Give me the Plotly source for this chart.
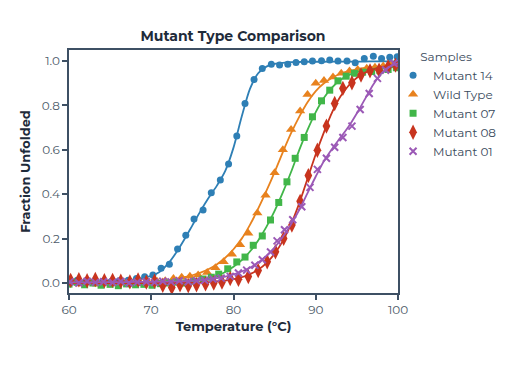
import plotly.graph_objects as go

# ---------------- data ----------------
series_names = ["Mutant 14", "Wild Type", "Mutant 07", "Mutant 08", "Mutant 01"]

m14_t = [60.0, 61.0, 62.0, 63.1, 64.1, 65.1, 66.1, 67.2, 68.2, 69.2, 70.2, 71.2, 72.2, 73.2,
         74.2, 75.2, 76.3, 77.3, 78.4, 79.4, 80.4, 81.4, 82.5, 83.5, 84.6, 85.6, 86.6, 87.6,
         88.6, 89.6, 90.7, 91.7, 92.7, 93.8, 94.8, 95.9, 97.0, 98.0, 99.0, 99.9]
m14_v = [0.008, 0.012, 0.005, 0.010, 0.008, 0.006, 0.010, 0.012, 0.020, 0.028, 0.036, 0.066,
         0.084, 0.153, 0.215, 0.288, 0.329, 0.407, 0.464, 0.536, 0.662, 0.809, 0.917, 0.967,
         0.986, 0.982, 0.986, 0.994, 0.997, 1.000, 1.002, 1.005, 1.000, 1.000, 0.992, 1.012,
         1.022, 1.012, 1.017, 1.020]

wt_t = [60.4, 61.4, 62.5, 63.5, 64.5, 65.5, 66.6, 67.6, 68.6, 69.6, 70.7, 71.7, 72.7, 73.7,
        74.7, 75.7, 76.8, 77.8, 78.8, 79.8, 80.8, 81.8, 82.9, 83.9, 85.0, 86.0, 87.0, 88.1,
        89.0, 90.0, 91.0, 92.1, 93.1, 94.1, 95.1, 96.2, 97.2, 98.2, 99.2]
wt_v = [0.002, -0.004, 0.003, -0.006, 0.000, -0.005, 0.004, 0.002, -0.003, 0.006, 0.008,
        0.010, 0.020, 0.026, 0.030, 0.036, 0.047, 0.069, 0.096, 0.130, 0.172, 0.224, 0.316,
        0.396, 0.497, 0.600, 0.692, 0.775, 0.850, 0.900, 0.912, 0.928, 0.945, 0.955, 0.962,
        0.968, 0.972, 0.978, 0.985]

m07_t = [60.0, 61.0, 61.9, 62.9, 63.9, 65.0, 66.0, 67.0, 68.1, 69.1, 70.1, 71.1, 72.2, 73.2,
         74.2, 75.2, 76.3, 77.3, 78.2, 79.3, 80.4, 81.4, 82.4, 83.5, 84.5, 85.5, 86.5, 87.5,
         88.6, 89.6, 90.7, 91.7, 92.7, 93.7, 94.7, 95.7, 96.8, 97.8, 98.8, 99.8]
m07_v = [-0.005, 0.003, -0.008, 0.000, -0.010, -0.006, -0.012, -0.004, -0.008, -0.006, -0.010,
         -0.003, 0.000, 0.004, 0.000, 0.008, 0.018, 0.026, 0.040, 0.064, 0.095, 0.117, 0.170,
         0.212, 0.284, 0.363, 0.456, 0.562, 0.656, 0.749, 0.821, 0.869, 0.911, 0.932, 0.945,
         0.950, 0.953, 0.957, 0.962, 0.970]

m08_t = [60.2, 61.2, 62.2, 63.2, 64.3, 65.3, 66.3, 67.4, 68.4, 69.4, 70.4, 71.4, 72.5, 73.5,
         74.5, 75.5, 76.6, 77.6, 78.6, 79.6, 80.6, 81.8, 83.0, 84.1, 85.1, 86.1, 87.1, 88.1,
         89.1, 90.2, 91.3, 92.3, 93.3, 94.4, 95.5, 96.6, 97.7, 98.8, 99.7]
m08_v = [0.012, 0.015, 0.010, 0.016, 0.010, 0.012, 0.008, 0.005, 0.014, 0.004, 0.008, -0.010,
         -0.020, -0.008, -0.012, -0.008, -0.004, 0.000, 0.004, 0.020, 0.017, 0.029, 0.056,
         0.096, 0.141, 0.201, 0.261, 0.368, 0.484, 0.598, 0.707, 0.809, 0.877, 0.902, 0.937,
         0.956, 0.959, 0.974, 0.982]

m01_t = [60.1, 61.2, 62.2, 63.2, 64.2, 65.3, 66.3, 67.3, 68.3, 69.4, 70.4, 71.4, 72.4, 73.4,
         74.5, 75.5, 76.5, 77.5, 78.5, 79.6, 80.6, 81.6, 82.6, 83.5, 84.5, 85.3, 86.2, 87.2,
         88.3, 89.3, 90.2, 91.3, 92.3, 93.3, 94.4, 95.4, 96.5, 97.5, 98.5, 99.5]
m01_v = [0.005, 0.000, 0.008, 0.003, 0.006, 0.002, 0.007, 0.000, 0.004, 0.006, 0.003, 0.008,
         0.005, 0.010, 0.006, 0.010, 0.012, 0.018, 0.022, 0.030, 0.045, 0.058, 0.080, 0.105,
         0.140, 0.190, 0.240, 0.285, 0.344, 0.431, 0.512, 0.562, 0.612, 0.656, 0.707, 0.782,
         0.854, 0.922, 0.960, 0.990]

# fitted curves
fit_t = [60, 62, 64, 66, 67, 68, 69, 70, 71, 72, 73, 74, 75, 76, 77, 78, 79, 80, 81, 82, 83,
         84, 85, 86, 87, 88, 89, 90, 91, 92, 93, 94, 95, 96, 97, 98, 99, 100]
m14_fit = [0.005, 0.006, 0.007, 0.010, 0.012, 0.016, 0.022, 0.032, 0.050, 0.085, 0.135, 0.195,
           0.260, 0.325, 0.385, 0.440, 0.505, 0.610, 0.750, 0.875, 0.945, 0.975, 0.987, 0.992,
           0.995, 0.996, 0.997, 0.997, 0.997, 0.998, 0.998, 0.998, 0.998, 0.998, 0.999, 0.999,
           0.999, 0.999]
wt_fit = [0.000, 0.001, 0.001, 0.002, 0.003, 0.003, 0.005, 0.006, 0.009, 0.013, 0.019, 0.026,
          0.035, 0.047, 0.063, 0.085, 0.114, 0.152, 0.200, 0.262, 0.335, 0.415, 0.500, 0.590,
          0.675, 0.750, 0.815, 0.865, 0.900, 0.925, 0.943, 0.955, 0.963, 0.969, 0.973, 0.976,
          0.979, 0.981]
m07_fit = [-0.005, -0.005, -0.004, -0.004, -0.004, -0.003, -0.003, -0.003, -0.002, 0.000, 0.002,
           0.004, 0.008, 0.013, 0.021, 0.033, 0.050, 0.073, 0.103, 0.142, 0.192, 0.253, 0.325,
           0.408, 0.500, 0.600, 0.690, 0.770, 0.835, 0.882, 0.915, 0.937, 0.950, 0.959, 0.965,
           0.969, 0.972, 0.974]
m08_fit = [0.000, 0.000, 0.000, 0.000, 0.000, 0.000, 0.000, 0.000, 0.000, 0.000, 0.000, 0.001,
           0.001, 0.002, 0.004, 0.007, 0.011, 0.017, 0.026, 0.040, 0.060, 0.090, 0.132, 0.190,
           0.265, 0.360, 0.470, 0.580, 0.680, 0.770, 0.840, 0.890, 0.925, 0.948, 0.963, 0.973,
           0.979, 0.983]
m01_fit = [0.003, 0.003, 0.004, 0.004, 0.004, 0.005, 0.005, 0.005, 0.006, 0.006, 0.007, 0.008,
           0.010, 0.013, 0.017, 0.022, 0.029, 0.039, 0.052, 0.069, 0.092, 0.122, 0.160, 0.208,
           0.265, 0.330, 0.405, 0.480, 0.550, 0.605, 0.655, 0.705, 0.765, 0.830, 0.895, 0.945,
           0.975, 0.990]

x_ticks = [60, 70, 80, 90, 100]
y_ticks = [0.0, 0.2, 0.4, 0.6, 0.8, 1.0]
y_tick_labels = ["0.0", "0.2", "0.4", "0.6", "0.8", "1.0"]

# ---------------- styling ----------------
colors = ["#2e7fb5", "#e8821e", "#41b649", "#c8341e", "#9b59b6"]
symbols = ["circle", "triangle-up", "square", "diamond-tall", "x-thin-open"]
sizes = [7, 9, 7, 11, 7]
FONT = "Montserrat, Inter, 'Open Sans', sans-serif"
DARK = "#1e2b3a"
AXIS = "#3e5064"

pts = [(m14_t, m14_v), (wt_t, wt_v), (m07_t, m07_v), (m08_t, m08_v), (m01_t, m01_v)]
fits = [m14_fit, wt_fit, m07_fit, m08_fit, m01_fit]

fig = go.Figure()
for name, (t, v), f, c, s, sz in zip(series_names, pts, fits, colors, symbols, sizes):
    fig.add_trace(go.Scatter(x=fit_t, y=f, mode="lines", line=dict(color=c, width=1.8, shape="spline", smoothing=0.8),
                             showlegend=False, hoverinfo="skip"))
    mk = dict(color=c, size=sz, symbol=s)
    if s.startswith("x"):
        mk["line"] = dict(color=c, width=2)
    fig.add_trace(go.Scatter(x=t, y=v, mode="markers", name=name, marker=mk))

fig.update_layout(
    width=520, height=366,
    margin=dict(l=61, r=130, t=42, b=81, autoexpand=False),
    paper_bgcolor="white", plot_bgcolor="white",
    font=dict(family=FONT, color=DARK, size=12),
    title=dict(text="<b>Mutant Type Comparison</b>", x=0.4327, xanchor="center", xref="container",
               y=1 - 28 / 366, yanchor="middle", yref="container", font=dict(size=14, color=DARK)),
    legend=dict(title=dict(text="&nbsp;" * 8 + "Samples", font=dict(size=12, color="#3a4a5c")),
                x=0.985, xanchor="left", y=1.02, yanchor="top",
                font=dict(size=12, color="#3a4a5c"), bgcolor="rgba(0,0,0,0)", tracegroupgap=0),
    xaxis=dict(range=[60, 100], tickvals=x_ticks, ticks="outside", ticklen=5, tickwidth=1.5, tickcolor=AXIS,
               showline=True, linecolor=AXIS, linewidth=1.5, mirror=True, showgrid=False, zeroline=False,
               automargin=False, tickfont=dict(size=12, color="#4d5b6a"),
               title=dict(text="<b>Temperature (°C)</b>", font=dict(size=13, color=DARK), standoff=6)),
    yaxis=dict(range=[-0.045, 1.05], tickvals=y_ticks, ticktext=y_tick_labels, ticks="outside", ticklen=5,
               tickwidth=1.5, tickcolor=AXIS, showline=True, linecolor=AXIS, linewidth=1.5, mirror=True,
               showgrid=False, zeroline=False, automargin=False, tickfont=dict(size=12, color="#4d5b6a"),
               title=dict(text="<b>Fraction Unfolded</b>", font=dict(size=13, color=DARK), standoff=8)),
)

fig.write_html("out.html")
